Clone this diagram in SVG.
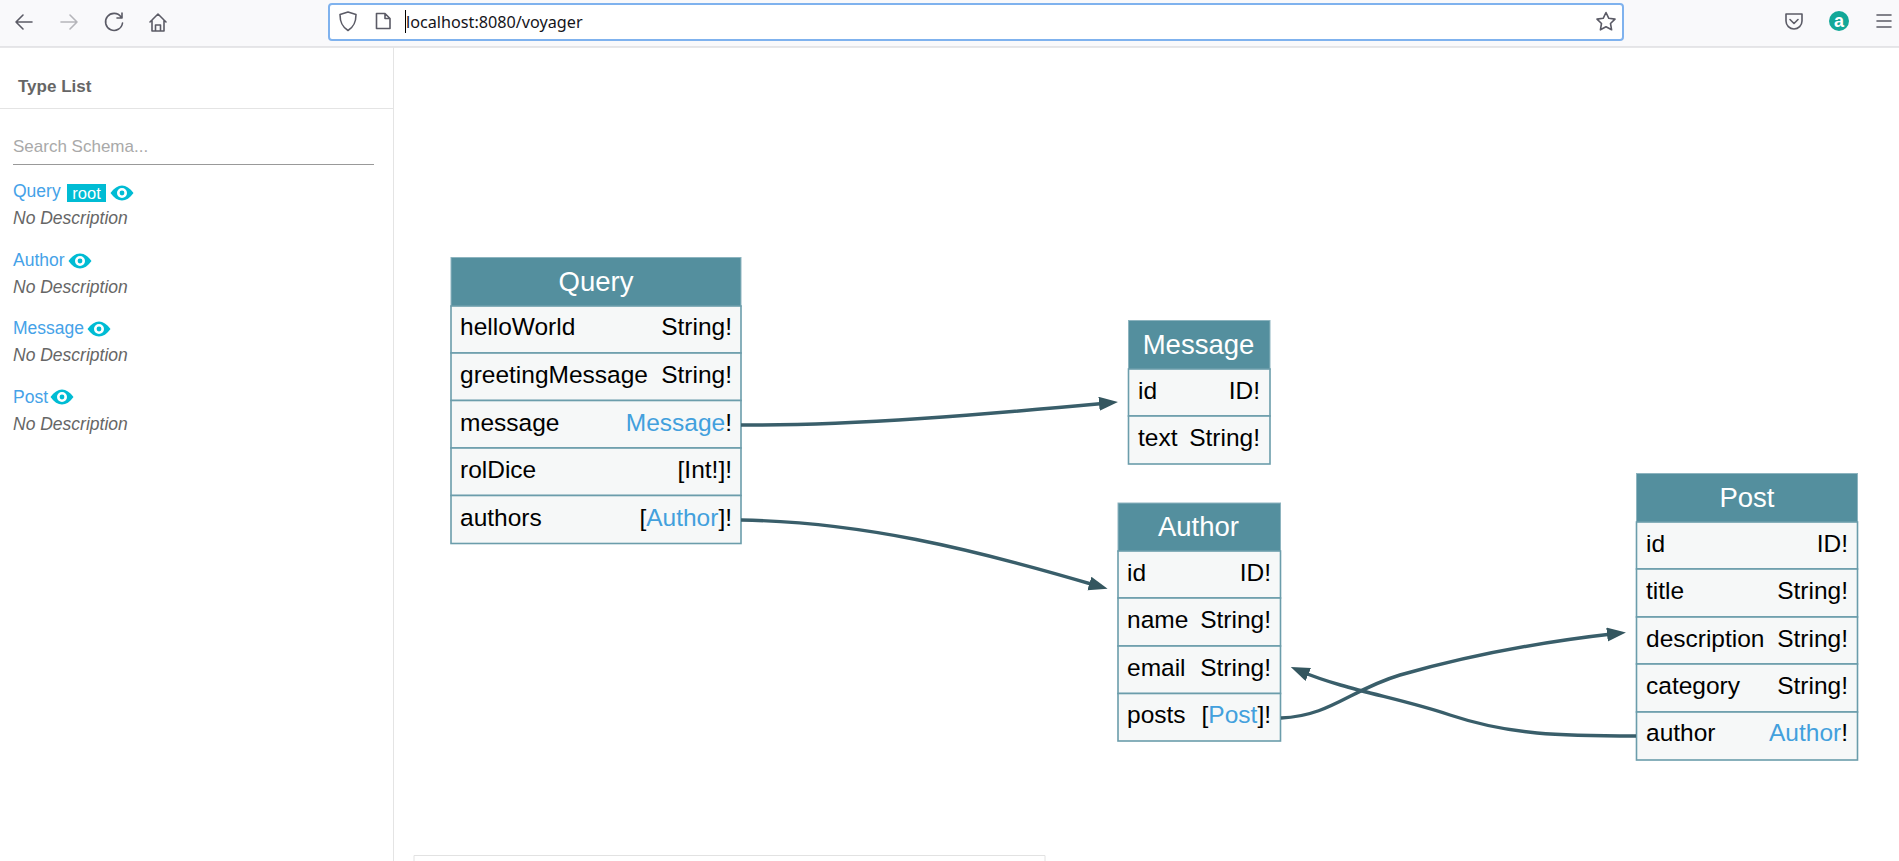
<svg xmlns="http://www.w3.org/2000/svg" width="1899" height="861" viewBox="0 0 1899 861">
<style>
text{font-family:"Liberation Sans",Arial,sans-serif}
.ic{fill:none;stroke:#5b5b66;stroke-width:1.6;stroke-linecap:round;stroke-linejoin:round}
.lnk{font-size:17.500px;fill:#45a2e8}
.desc{font-size:17.500px;font-style:italic;fill:#666}
.eye{fill:#00bcd4}
.head{fill:#548f9e;stroke:#8db4bf;stroke-width:1}
.row{fill:#f6f8f8;stroke:#6b9dab;stroke-width:1.600}
.title{font-size:27.500px;fill:#fff;text-anchor:middle}
.f{font-size:24.500px;fill:#000}
.t{font-size:24.500px;fill:#000;text-anchor:end}
.t tspan{fill:#42a0dd}
.edge{fill:none;stroke:#395e6a;stroke-width:3.400;marker-end:url(#arr)}
</style>
<defs>
<marker id="arr" markerUnits="userSpaceOnUse" markerWidth="22" markerHeight="16" refX="9" refY="7" orient="auto"><path d="M0,0L19,7L0,14Z" fill="#34565f"/></marker>
<g id="eyeI"><path class="eye" fill-rule="evenodd" d="M-11.500,0C-8,-5 -4,-7.500 0,-7.500C4,-7.500 8,-5 11.500,0C8,5 4,7.500 0,7.500C-4,7.500 -8,5 -11.500,0ZM0,-5A5,5 0 1 0 0,5A5,5 0 1 0 0,-5Z"/><circle class="eye" r="2.400"/></g>
</defs>
<rect width="1899" height="861" fill="#fff"/>
<g id="toolbar">
<rect width="1899" height="47" fill="#f9f9fb"/>
<path d="M0,47H1899" stroke="#cfcfd3" stroke-width="1.200"/>
<path class="ic" d="M32,22H16M23,15L16,22L23,29"/>
<path class="ic" style="stroke:#b5b5ba" d="M61,22H77M70,15L77,22L70,29"/>
<path class="ic" d="M121,17A8.500,8.500 0 1 0 122.500,23M122,13V18H117"/>
<path class="ic" d="M150,22L158,14L166,22M152,20V31H164V20M155.500,31V25H160.500V31"/>
<rect x="329" y="4" width="1294" height="36" rx="3" fill="#fff" stroke="#7fb2ee" stroke-width="2"/>
<path class="ic" d="M348,12L356,14.500C356,23 353.500,27 348,30.500C342.500,27 340,23 340,14.500Z"/>
<path class="ic" d="M376.500,13.500H385L390,18.500V28.500H376.500ZM385,13.500V18.500H390"/>
<path d="M405.500,10V33" stroke="#000" stroke-width="1"/>
<text x="406" y="28" font-size="16.200" style="font-family:'Noto Sans','Open Sans',sans-serif" fill="#15141a">localhost:8080/voyager</text>
<path class="ic" d="M1606,12.500L1608.800,18.300L1615,19.100L1610.500,23.500L1611.600,29.800L1606,26.800L1600.400,29.800L1601.500,23.500L1597,19.100L1603.200,18.300Z"/>
<path class="ic" d="M1786,14H1802V21A8,8 0 0 1 1786,21ZM1790,19.500L1794,23.500L1798,19.500"/>
<circle cx="1839" cy="21" r="10" fill="#12a898"/>
<text x="1839" y="27" font-size="18" font-weight="bold" fill="#fff" text-anchor="middle">a</text>
<path class="ic" d="M1877,15H1891M1877,21H1891M1877,27H1891"/>
</g>
<g id="sidebar">
<path d="M393.500,47V861" stroke="#e4e4e4" stroke-width="1"/>
<path d="M0,108.500H393" stroke="#e4e4e4" stroke-width="1"/>
<text x="18" y="92" font-size="17" font-weight="bold" fill="#666">Type List</text>
<text x="13" y="152" font-size="17" fill="#a9a9a9">Search Schema...</text>
<path d="M13,164.500H374" stroke="#999" stroke-width="1"/>
<text class="lnk" x="13" y="197">Query</text>
<rect x="67" y="184" width="39" height="18" fill="#00bcd4"/>
<text x="86.500" y="199" font-size="16.500" fill="#fff" text-anchor="middle">root</text>
<use href="#eyeI" x="122" y="193"/>
<text class="desc" x="13" y="224">No Description</text>
<text class="lnk" x="13" y="265.500">Author</text>
<use href="#eyeI" x="80" y="261"/>
<text class="desc" x="13" y="293">No Description</text>
<text class="lnk" x="13" y="334">Message</text>
<use href="#eyeI" x="99" y="329"/>
<text class="desc" x="13" y="361">No Description</text>
<text class="lnk" x="13" y="403">Post</text>
<use href="#eyeI" x="62" y="397"/>
<text class="desc" x="13" y="430">No Description</text>
<path d="M414,861V855.500H1045V861" fill="none" stroke="#e2e2e2" stroke-width="1"/>
</g>
<g id="node-Query">
<rect class="head" x="451" y="257.500" width="290" height="49"/>
<rect class="row" x="451" y="306" width="290" height="47"/>
<rect class="row" x="451" y="353" width="290" height="47.500"/>
<rect class="row" x="451" y="400.500" width="290" height="47.500"/>
<rect class="row" x="451" y="448" width="290" height="47.500"/>
<rect class="row" x="451" y="495.500" width="290" height="48"/>
<text class="title" x="596" y="291">Query</text>
<text class="f" x="460" y="334.500">helloWorld</text><text class="t" x="732" y="334.500">String!</text>
<text class="f" x="460" y="383">greetingMessage</text><text class="t" x="732" y="383">String!</text>
<text class="f" x="460" y="431">message</text><text class="t" x="732" y="431"><tspan>Message</tspan>!</text>
<text class="f" x="460" y="478">rolDice</text><text class="t" x="732" y="478">[Int!]!</text>
<text class="f" x="460" y="526">authors</text><text class="t" x="732" y="526">[<tspan>Author</tspan>]!</text>
</g>
<g id="node-Message">
<rect class="head" x="1128.500" y="320.500" width="141.500" height="49"/>
<rect class="row" x="1128.500" y="369" width="141.500" height="47"/>
<rect class="row" x="1128.500" y="416" width="141.500" height="48"/>
<text class="title" x="1198.500" y="353.500">Message</text>
<text class="f" x="1138" y="398.500">id</text><text class="t" x="1260" y="398.500">ID!</text>
<text class="f" x="1138" y="446">text</text><text class="t" x="1260" y="446">String!</text>
</g>
<g id="node-Author">
<rect class="head" x="1118" y="503" width="162.500" height="48.500"/>
<rect class="row" x="1118" y="551" width="162.500" height="47"/>
<rect class="row" x="1118" y="598" width="162.500" height="48"/>
<rect class="row" x="1118" y="646" width="162.500" height="47.500"/>
<rect class="row" x="1118" y="693.500" width="162.500" height="47.500"/>
<text class="title" x="1198.500" y="535.500">Author</text>
<text class="f" x="1127" y="581">id</text><text class="t" x="1271" y="581">ID!</text>
<text class="f" x="1127" y="628">name</text><text class="t" x="1271" y="628">String!</text>
<text class="f" x="1127" y="676">email</text><text class="t" x="1271" y="676">String!</text>
<text class="f" x="1127" y="723">posts</text><text class="t" x="1271" y="723">[<tspan>Post</tspan>]!</text>
</g>
<g id="node-Post">
<rect class="head" x="1636.500" y="473.500" width="221" height="49"/>
<rect class="row" x="1636.500" y="522" width="221" height="47"/>
<rect class="row" x="1636.500" y="569" width="221" height="48"/>
<rect class="row" x="1636.500" y="617" width="221" height="47"/>
<rect class="row" x="1636.500" y="664" width="221" height="48"/>
<rect class="row" x="1636.500" y="712" width="221" height="48"/>
<text class="title" x="1747" y="506.500">Post</text>
<text class="f" x="1646" y="552">id</text><text class="t" x="1848" y="552">ID!</text>
<text class="f" x="1646" y="599">title</text><text class="t" x="1848" y="599">String!</text>
<text class="f" x="1646" y="646.500">description</text><text class="t" x="1848" y="646.500">String!</text>
<text class="f" x="1646" y="694">category</text><text class="t" x="1848" y="694">String!</text>
<text class="f" x="1646" y="741">author</text><text class="t" x="1848" y="741"><tspan>Author</tspan>!</text>
</g>
<g id="connectors">
<path class="edge" d="M741,425C850,426 990,414 1108,403"/>
<path class="edge" d="M741,520C860,522 970,548 1098,586"/>
<path class="edge" d="M1281,718C1330,716 1350,690 1400,675C1470,655 1540,642 1616,633.500"/>
<path class="edge" d="M1636,736C1560,736 1510,735 1450,715C1400,698 1345,690 1300,671"/>
</g>
</svg>
